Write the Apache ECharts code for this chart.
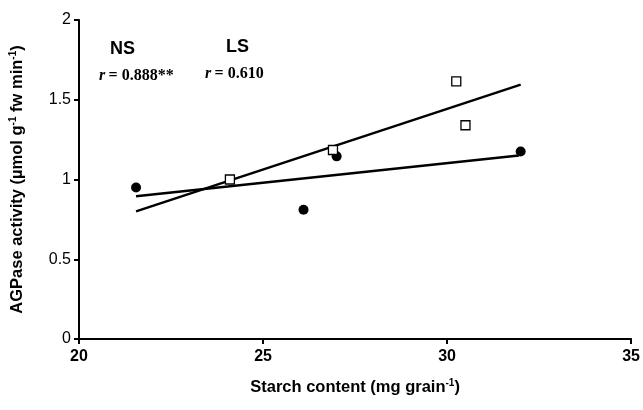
<!DOCTYPE html>
<html>
<head>
<meta charset="utf-8">
<script src="https://cdn.jsdelivr.net/npm/echarts@6/dist/echarts.min.js"></script>
<style>
  html, body { margin: 0; padding: 0; background: #fff; }
  #chart { width: 643px; height: 410px; }
</style>
</head>
<body>
<div id="chart"></div>
<script>
// NS: filled circles, LS: open squares
const nsX = [21.55, 26.1, 27.0, 32.0];
const nsY = [0.95, 0.81, 1.145, 1.175];
const lsX = [24.1, 26.9, 30.25, 30.5];
const lsY = [1.0, 1.185, 1.615, 1.34];
// fitted trend line endpoints
const nsFitX = [21.55, 31.95];
const nsFitY = [0.895, 1.15];
const lsFitX = [21.55, 32.0];
const lsFitY = [0.8, 1.595];

const xTicks = [20, 25, 30, 35];
const yTicks = [0, 0.5, 1, 1.5, 2];

const chart = echarts.init(document.getElementById('chart'), null, { renderer: 'canvas' });

const pairs = (xs, ys) => xs.map((x, i) => [x, ys[i]]);

// 标题用的富文本样式（上标）
const titleRich = {
  t: { fontSize: 16.5, fontWeight: 'bold', fontFamily: 'Liberation Sans', color: '#000' },
  s: { fontSize: 10, fontWeight: 'bold', fontFamily: 'Liberation Sans', color: '#000', padding: [0, 0, 9, 0] }
};

const option = {
  backgroundColor: '#fff',
  animation: false,
  grid: { left: 78, right: 11, top: 20, bottom: 71 },
  xAxis: {
    type: 'value',
    min: xTicks[0],
    max: xTicks[xTicks.length - 1],
    interval: 5,
    splitLine: { show: false },
    axisLine: { lineStyle: { color: '#000', width: 2 } },
    axisTick: { show: true, length: 5, lineStyle: { color: '#000', width: 2 } },
    axisLabel: { color: '#000', fontSize: 16, fontWeight: 'bold', fontFamily: 'Liberation Sans', margin: 10 },
    name: '{t|Starch content (mg grain}{s|-1}{t|)}',
    nameLocation: 'middle',
    nameGap: 39,
    nameTextStyle: { rich: titleRich }
  },
  yAxis: {
    type: 'value',
    min: yTicks[0],
    max: yTicks[yTicks.length - 1],
    interval: 0.5,
    splitLine: { show: false },
    axisLine: { show: true, lineStyle: { color: '#000', width: 2 } },
    axisTick: { show: true, length: 5, lineStyle: { color: '#000', width: 2 } },
    axisLabel: { color: '#000', fontSize: 16, fontFamily: 'Liberation Sans', margin: 8 },
    name: '{t|AGPase activity (µmol g}{s|-1}{t| fw min}{s|-1}{t|)}',
    nameLocation: 'middle',
    nameRotate: 90,
    nameGap: 52,
    nameTextStyle: { rich: titleRich }
  },
  series: [
    {
      name: 'NS fit', type: 'line', data: pairs(nsFitX, nsFitY),
      symbol: 'none', lineStyle: { color: '#000', width: 2.5 }, z: 2
    },
    {
      name: 'LS fit', type: 'line', data: pairs(lsFitX, lsFitY),
      symbol: 'none', lineStyle: { color: '#000', width: 2.5 }, z: 2
    },
    {
      name: 'NS', type: 'scatter', data: pairs(nsX, nsY),
      symbol: 'circle', symbolSize: 10,
      itemStyle: { color: '#000', opacity: 1 }, z: 3
    },
    {
      name: 'LS', type: 'scatter', data: pairs(lsX, lsY),
      symbol: 'rect', symbolSize: 9,
      itemStyle: { color: '#fff', borderColor: '#000', borderWidth: 1.3, opacity: 1 }, z: 3
    }
  ],
  graphic: [
    {
      type: 'text', left: 110, top: 40,
      style: { text: 'NS', font: 'bold 18px "Liberation Sans"', fill: '#000' }
    },
    {
      type: 'text', left: 226, top: 38,
      style: { text: 'LS', font: 'bold 18px "Liberation Sans"', fill: '#000' }
    },
    {
      type: 'text', left: 99, top: 68,
      style: {
        text: '{i|r} {b|= 0.888**}',
        rich: {
          i: { fontSize: 16, fontStyle: 'italic', fontWeight: 'bold', fontFamily: 'Liberation Serif', fill: '#000' },
          b: { fontSize: 16, fontWeight: 'bold', fontFamily: 'Liberation Serif', fill: '#000' }
        }
      }
    },
    {
      type: 'text', left: 205, top: 66,
      style: {
        text: '{i|r} {b|= 0.610}',
        rich: {
          i: { fontSize: 16, fontStyle: 'italic', fontWeight: 'bold', fontFamily: 'Liberation Serif', fill: '#000' },
          b: { fontSize: 16, fontWeight: 'bold', fontFamily: 'Liberation Serif', fill: '#000' }
        }
      }
    }
  ]
};

chart.setOption(option);
</script>
</body>
</html>
